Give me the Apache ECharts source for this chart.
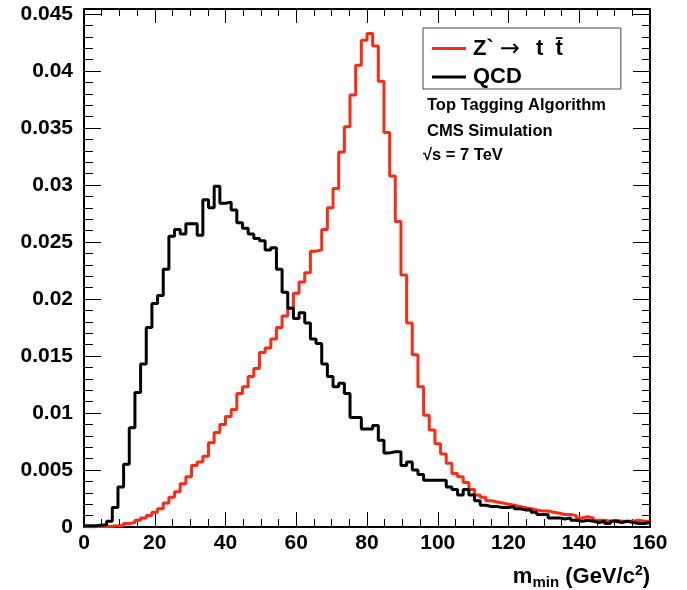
<!DOCTYPE html>
<html>
<head>
<meta charset="utf-8">
<script src="https://cdn.jsdelivr.net/npm/echarts@6/dist/echarts.min.js"></script>
<style>
  html, body { margin: 0; padding: 0; background: #fff; }
  #chart { width: 687px; height: 590px; }
</style>
</head>
<body>
<div id="chart"></div>
<script>
// Histogram binning: 100 bins of 1.6 GeV/c^2 from 0 to 160
const binStart = 0;
const binWidth = 1.6;

// Z' -> t tbar signal, normalised bin contents
const signalValues = [
  0.00002, 0.00003, 0.00004, 0.00005, 0.00007, 0.0001, 0.0001, 0.0003, 0.0004, 0.0006,
  0.0008, 0.0010, 0.0013, 0.0016, 0.0021, 0.0026, 0.0031, 0.0038, 0.0044, 0.0054,
  0.0057, 0.0062, 0.0074, 0.0083, 0.0090, 0.0097, 0.0103, 0.0117, 0.0123, 0.0132,
  0.0139, 0.0153, 0.0157, 0.0165, 0.0175, 0.0185, 0.0192, 0.0205, 0.0215, 0.0223,
  0.0242, 0.0243, 0.0261, 0.0280, 0.0297, 0.0329, 0.0351, 0.0379, 0.0405, 0.0427,
  0.0433, 0.0422, 0.0391, 0.0346, 0.0308, 0.0268, 0.0221, 0.0179, 0.0151, 0.0123,
  0.0098, 0.0085, 0.0073, 0.0064, 0.0056, 0.0047, 0.0044, 0.0039, 0.0033, 0.0028,
  0.0026, 0.0023, 0.0022, 0.0021, 0.0020, 0.0019, 0.0018, 0.0017, 0.0016, 0.0015,
  0.0014, 0.0014, 0.0013, 0.0012, 0.0011, 0.0011, 0.0010, 0.0008, 0.0009, 0.0008,
  0.0006, 0.0006, 0.0005, 0.0006, 0.0005, 0.0005, 0.0005, 0.0006, 0.0005, 0.0005
];

// QCD background, normalised bin contents
const qcdValues = [
  0.0001, 0.0001, 0.00015, 0.0002, 0.0005, 0.0017, 0.0035, 0.0055, 0.0087, 0.0118,
  0.0143, 0.0175, 0.0196, 0.0203, 0.0226, 0.0255, 0.0261, 0.0257, 0.0266, 0.0266,
  0.0256, 0.0287, 0.0280, 0.0299, 0.0284, 0.0285, 0.0278, 0.0267, 0.0262, 0.0257,
  0.0253, 0.0251, 0.0243, 0.0245, 0.0226, 0.0206, 0.0192, 0.0183, 0.0188, 0.0179,
  0.0165, 0.0161, 0.0143, 0.0132, 0.0123, 0.0126, 0.0117, 0.0096, 0.0096, 0.0086,
  0.0086, 0.0089, 0.0076, 0.0065, 0.0066, 0.0066, 0.0054, 0.0057, 0.0050, 0.0046,
  0.0041, 0.0041, 0.0041, 0.0041, 0.0035, 0.0033, 0.0028, 0.0033, 0.0028, 0.0023,
  0.0019, 0.0018, 0.0018, 0.0017, 0.0017, 0.0018, 0.0016, 0.0015, 0.0015, 0.0013,
  0.0011, 0.0011, 0.0008, 0.0008, 0.0007, 0.0008, 0.0006, 0.0005, 0.0006, 0.0005,
  0.0004, 0.0005, 0.0003, 0.0005, 0.0004, 0.0005, 0.0004, 0.0003, 0.0003, 0.0004
];

// Axis ticks
const xTicks = [0, 20, 40, 60, 80, 100, 120, 140, 160];
const yTicks = [0, 0.005, 0.01, 0.015, 0.02, 0.025, 0.03, 0.035, 0.04, 0.045];
const yMinorStep = 0.001;
const yMax = 0.04544;

const seriesNames = ['Z`\u2192 t t\u0304', 'QCD'];

// Minor tick positions on the y axis
const yMinorTicks = [];
for (let k = 1; k * yMinorStep < yMax; k++) yMinorTicks.push(+(k * yMinorStep).toFixed(4));

// Histogram as a step line: one point per bin low edge plus the upper edge of the last bin
function histToSteps(values) {
  const pts = values.map((v, i) => [binStart + i * binWidth, v]);
  pts.push([binStart + values.length * binWidth, values[values.length - 1]]);
  return pts;
}

const FONT = 'Liberation Sans, Arial, Helvetica, sans-serif';
const black = '#000';
const red = '#ff2a12';

function xAxisCfg(pos, showLabels, major, minor) {
  return {
    type: 'value', position: pos, min: 0, max: 160, interval: 20,
    axisLine: { show: true, onZero: false, lineStyle: { color: black, width: 2 } },
    axisTick: { show: true, inside: true, length: major, lineStyle: { color: black, width: 1 } },
    minorTick: { show: true, splitNumber: 4, length: minor, lineStyle: { color: black, width: 1 } },
    axisLabel: showLabels ? {
      show: true, margin: 6, color: black, fontFamily: FONT, fontWeight: 'bold', fontSize: 21,
      customValues: xTicks
    } : { show: false },
    splitLine: { show: false }
  };
}

function yAxisCfg(pos, values, len, showLabels, showLine) {
  return {
    type: 'value', position: pos, min: 0, max: yMax,
    axisLine: { show: showLine, onZero: false, lineStyle: { color: black, width: 2 } },
    axisTick: { show: true, inside: true, length: len, customValues: values, lineStyle: { color: black, width: 1 } },
    axisLabel: showLabels ? {
      show: true, margin: 11, color: black, fontFamily: FONT, fontWeight: 'bold', fontSize: 21,
      customValues: values,
      formatter: v => String(parseFloat(v.toFixed(4)))
    } : { show: false },
    splitLine: { show: false }
  };
}

const chart = echarts.init(document.getElementById('chart'), null, { renderer: 'canvas' });

chart.setOption({
  backgroundColor: '#fff',
  animation: false,
  grid: { left: 84, right: 37, top: 9, bottom: 63, containLabel: false },
  xAxis: [
    xAxisCfg('bottom', true, 15, 8),
    xAxisCfg('top', false, 14, 7)
  ],
  yAxis: [
    yAxisCfg('left', yTicks, 17, true, true),
    yAxisCfg('left', yMinorTicks, 9, false, false),
    yAxisCfg('right', yTicks, 17, false, true),
    yAxisCfg('right', yMinorTicks, 8, false, false)
  ],
  legend: {
    orient: 'vertical',
    left: 423, top: 28,
    padding: [7, 58, 1, 9],
    itemGap: 4,
    itemWidth: 34, itemHeight: 3,
    icon: 'rect',
    borderColor: '#444', borderWidth: 1,
    backgroundColor: '#fff',
    formatter: name => name === 'QCD'
      ? '{b|QCD}'
      : '{b|Z`}{a|\u2192}{b| t  t\u0304}',
    textStyle: {
      color: black, padding: [0, 0, 0, 2],
      rich: {
        b: { fontFamily: FONT, fontWeight: 'bold', fontSize: 22, lineHeight: 22 },
        a: { fontFamily: 'DejaVu Sans, sans-serif', fontWeight: 'normal', fontSize: 24, lineHeight: 22, padding: [3, 10, 0, 6] }
      }
    },
    data: seriesNames
  },
  series: [
    {
      name: seriesNames[0], type: 'line', step: 'end', xAxisIndex: 0, yAxisIndex: 0,
      data: histToSteps(signalValues), showSymbol: false, symbol: 'none',
      lineStyle: { color: red, width: 3 }, itemStyle: { color: red }, clip: true
    },
    {
      name: seriesNames[1], type: 'line', step: 'end', xAxisIndex: 0, yAxisIndex: 0,
      data: histToSteps(qcdValues), showSymbol: false, symbol: 'none',
      lineStyle: { color: black, width: 3 }, itemStyle: { color: black }, clip: true
    }
  ],
  graphic: [
    { type: 'text', left: 427, top: 97, style: { text: 'Top Tagging Algorithm', fill: black, font: 'bold 16.5px ' + FONT } },
    { type: 'text', left: 427, top: 123, style: { text: 'CMS Simulation', fill: black, font: 'bold 16.5px ' + FONT } },
    { type: 'text', left: 423, top: 147, style: { text: '\u221As = 7 TeV', fill: black, font: 'bold 16.5px ' + FONT } },
    {
      type: 'text', right: 37, top: 563,
      style: {
        text: '{m|m}{s|min}{m| (GeV/c}{p|2}{m|)}',
        fill: black,
        rich: {
          m: { fontFamily: FONT, fontWeight: 'bold', fontSize: 22, lineHeight: 26, verticalAlign: 'middle' },
          s: { fontFamily: FONT, fontWeight: 'bold', fontSize: 15, lineHeight: 26, verticalAlign: 'bottom', padding: [12, 0, 0, 0] },
          p: { fontFamily: FONT, fontWeight: 'bold', fontSize: 14, lineHeight: 26, verticalAlign: 'top', padding: [0, 0, 10, 0] }
        }
      }
    }
  ]
});
</script>
</body>
</html>
